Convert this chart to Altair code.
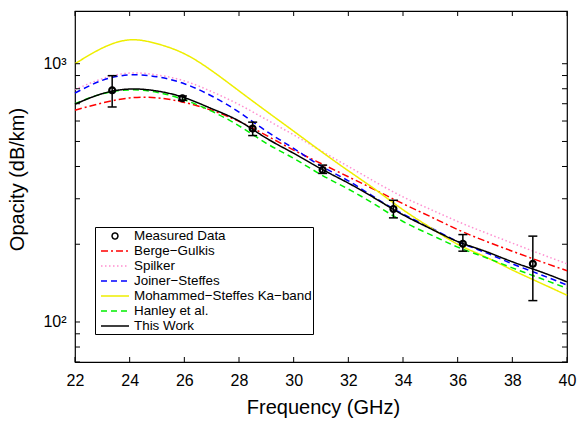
import altair as alt
import pandas as pd

# ---------------- data ----------------
freq = [22, 23, 24, 25, 26, 27, 28, 29, 30, 31, 32, 33, 34, 35, 36, 37, 38, 39, 40]

berge_gulkis = [661, 705, 737, 738, 708, 660, 598, 528, 463, 411, 365, 324, 287, 256, 228, 206, 188, 172, 158]
spilker = [794, 875, 920, 905, 858, 780, 695, 608, 530, 460, 400, 348, 305, 273, 245, 222, 202, 184, 168]
joiner_steffes = [770, 862, 905, 890, 837, 750, 650, 548, 470, 402, 352, 302, 262, 232, 205, 186, 168, 153, 139]
mohammed_steffes = [1000, 1150, 1237, 1195, 1093, 940, 785, 655, 548, 458, 385, 325, 272, 232, 200, 179, 159, 142, 127]
hanley = [700, 765, 792, 775, 725, 655, 575, 492, 430, 372, 327, 284, 245, 218, 195, 178, 162, 148, 135]
this_work = [697, 766, 798, 784, 739, 670, 600, 515, 450, 392, 345, 300, 260, 230, 205, 188, 171, 157, 143]

meas_freq = [23.36, 25.93, 28.5, 31.06, 33.65, 36.19, 38.75]
meas_val = [789, 735, 561, 388, 274, 201, 168]
meas_lo = [680, 722, 527, 376, 253, 188, 121]
meas_hi = [899, 750, 594, 405, 296, 218, 215]

names = ["Measured Data", "Berge\u2212Gulkis", "Spilker", "Joiner\u2212Steffes",
         "Mohammed\u2212Steffes Ka\u2212band", "Hanley et al.", "This Work"]
series = [berge_gulkis, spilker, joiner_steffes, mohammed_steffes, hanley, this_work]

x_ticks = [22, 24, 26, 28, 30, 32, 34, 36, 38, 40]
y_ticks = [70, 80, 90, 100, 200, 300, 400, 500, 600, 700, 800, 900, 1000]

# ---------------- styles ----------------
colors = ["#000000", "#ff0000", "#ff8fd0", "#0000ff", "#eeee00", "#00ee00", "#000000"]
dashes = [[1, 0], [7, 3, 2, 3], [1.5, 2.5], [6, 4], [1, 0], [6, 4], [1, 0]]
CIRCLE = "M0.42,0A0.42,0.42 0 1,1 -0.42,0A0.42,0.42 0 1,1 0.42,0Z"
LINE = "M-2,0L2,0"
shapes = [CIRCLE] + [LINE] * 6

W, H = 492, 351
FONT = "Liberation Sans"
TL = 5  # tick length

rows = []
for name, vals in zip(names[1:], series):
    for f, v in zip(freq, vals):
        rows.append({"f": f, "v": v, "s": name})
lines_df = pd.DataFrame(rows)
meas_df = pd.DataFrame({"f": meas_freq, "v": meas_val, "lo": meas_lo, "hi": meas_hi,
                        "s": names[0]})
xt_df = pd.DataFrame({"t": x_ticks})
yt_df = pd.DataFrame({"t": y_ticks})

XS = alt.Scale(domain=[22, 40], nice=False, zero=False)
YS = alt.Scale(type="log", domain=[70, 1600], nice=False)

XA = alt.Axis(values=x_ticks, title="Frequency (GHz)", grid=False, domain=False,
              ticks=False, tickSize=0, labelFont=FONT, labelFontSize=16, labelColor="black",
              labelPadding=10, labelFlush=False, titleFont=FONT, titleFontSize=20,
              titleFontWeight="normal", titleColor="black", titleBaseline="alphabetic",
              titleX=248, titleY=51, labelOverlap=False)
YA = alt.Axis(values=y_ticks, title="Opacity (dB/km)", grid=False, domain=False,
              ticks=False, tickSize=0, labelFont=FONT, labelFontSize=16, labelColor="black",
              labelPadding=9, labelOverlap=False,
              labelExpr="datum.value == 1000 ? '10\u00b3' : (datum.value == 100 ? '10\u00b2' : '')",
              titleFont=FONT, titleFontSize=20, titleFontWeight="normal", titleColor="black",
              titleAngle=270, titleBaseline="alphabetic", titleX=-52, titleY=168,
              titleAlign="center")

LEG = alt.Legend(title=None, orient="none", legendX=20, legendY=216, direction="vertical",
                 strokeColor="black", fillColor="white", padding=1, cornerRadius=0,
                 symbolOffset=11, labelOffset=11, rowPadding=0, symbolSize=196,
                 symbolStrokeWidth=1.5, labelFont=FONT, labelFontSize=13.4,
                 labelColor="black", labelLimit=300)

color_enc = alt.Color("s:N", scale=alt.Scale(domain=names, range=colors), legend=LEG)
dash_enc = alt.StrokeDash("s:N", scale=alt.Scale(domain=names, range=dashes), legend=LEG)
shape_enc = alt.Shape("s:N", scale=alt.Scale(domain=names, range=shapes), legend=LEG)

X = alt.X("f:Q", scale=XS, axis=XA)
Y = alt.Y("v:Q", scale=YS, axis=YA)

lines = alt.Chart(lines_df).mark_line(strokeWidth=1.5, interpolate="natural").encode(
    x=X, y=Y, color=color_enc, strokeDash=dash_enc)

err = alt.Chart(meas_df).mark_rule(color="black", strokeWidth=1.5).encode(
    x=X, y=alt.Y("lo:Q", scale=YS, axis=YA), y2="hi:Q")
cap_lo = alt.Chart(meas_df).mark_tick(orient="horizontal", size=9, thickness=1.5,
                                      color="black", opacity=1).encode(
    x=X, y=alt.Y("lo:Q", scale=YS, axis=YA))
cap_hi = alt.Chart(meas_df).mark_tick(orient="horizontal", size=9, thickness=1.5,
                                      color="black", opacity=1).encode(
    x=X, y=alt.Y("hi:Q", scale=YS, axis=YA))

points = alt.Chart(meas_df).mark_point(filled=False, size=196, strokeWidth=2.2, opacity=1).encode(
    x=X, y=Y, color=color_enc, shape=shape_enc, strokeDash=dash_enc)

xt_bottom = alt.Chart(xt_df).mark_rule(color="black", strokeWidth=1).encode(
    x=alt.X("t:Q", scale=XS, axis=XA), y=alt.value(H), y2=alt.value(H - TL))
xt_top = alt.Chart(xt_df).mark_rule(color="black", strokeWidth=1).encode(
    x=alt.X("t:Q", scale=XS, axis=XA), y=alt.value(0), y2=alt.value(TL))
yt_left = alt.Chart(yt_df).mark_rule(color="black", strokeWidth=1).encode(
    y=alt.Y("t:Q", scale=YS, axis=YA), x=alt.value(0), x2=alt.value(TL))
yt_right = alt.Chart(yt_df).mark_rule(color="black", strokeWidth=1).encode(
    y=alt.Y("t:Q", scale=YS, axis=YA), x=alt.value(W - TL), x2=alt.value(W))

chart = alt.layer(lines, xt_bottom, xt_top, yt_left, yt_right, err, cap_lo, cap_hi, points).properties(
    width=W, height=H,
    autosize=alt.AutoSizeParams(type="none"),
    padding={"left": 75, "top": 11, "right": 11, "bottom": 60},
    background="white",
).configure_view(stroke="black", strokeWidth=1.2)

chart.save("out.html", embed_options={"renderer": "svg", "actions": False})
